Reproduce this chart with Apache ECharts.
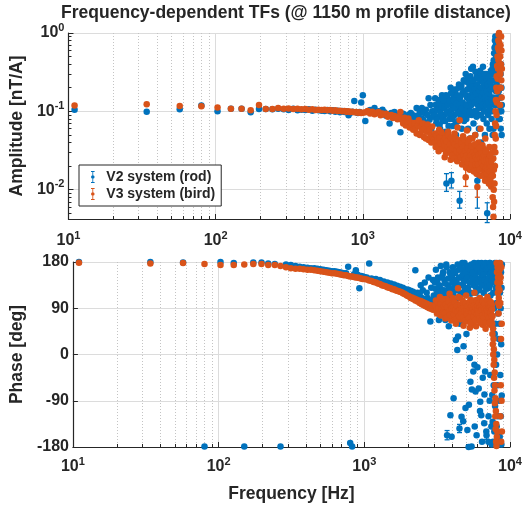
<!DOCTYPE html>
<html><head><meta charset="utf-8">
<script src="https://cdn.jsdelivr.net/npm/echarts@6/dist/echarts.min.js"></script>
<style>html,body{margin:0;padding:0;background:#fff}#c{width:527px;height:506px}</style>
</head><body><div id="c"></div><script>
// ---------------- data ----------------
const freq = [
  // 11 .. 500 Hz
  11,34,57,80,103,127,150,173,197,219,243,266,290,313,337,360,383,407,430,454,477,500,
  // 525 .. 1000 Hz
  525,550,575,600,625,650,675,700,725,750,775,800,825,850,875,900,925,950,975,1000,
  // 1040 .. 3000 Hz
  1040,1080,1120,1160,1200,1240,1280,1320,1360,1400,
  1440,1480,1520,1560,1600,1640,1680,1720,1760,1800,
  1840,1880,1920,1960,2000,2040,2080,2120,2160,2200,
  2240,2280,2320,2360,2400,2440,2480,2520,2560,2600,
  2640,2680,2720,2760,2800,2840,2880,2920,2960,3000,
  // 3050 .. 7500 Hz
  3050,3100,3150,3200,3250,3300,3350,3400,3450,3500,
  3550,3600,3650,3700,3750,3800,3850,3900,3950,4000,
  4050,4100,4150,4200,4250,4300,4350,4400,4450,4500,
  4550,4600,4650,4700,4750,4800,4850,4900,4950,5000,
  5050,5100,5150,5200,5250,5300,5350,5400,5450,5500,
  5550,5600,5650,5700,5750,5800,5850,5900,5950,6000,
  6050,6100,6150,6200,6250,6300,6350,6400,6450,6500,
  6550,6600,6650,6700,6750,6800,6850,6900,6950,7000,
  7050,7100,7150,7200,7250,7300,7350,7400,7450,7500,
  // 7550 .. 8800 Hz
  7550,7575,7600,7625,7650,7675,7700,7725,7750,7775,
  7800,7825,7850,7875,7900,7925,7950,7975,8000,8025,
  8050,8075,8100,8125,8150,8175,8200,8225,8250,8275,
  8300,8325,8350,8375,8400,8425,8450,8475,8500,8525,
  8550,8575,8600,8625,8650,8675,8700,8725,8750,8775,8800,
  // 3075 .. 7525 Hz (in-between bins)
  3075,3125,3175,3225,3275,3325,3375,3425,3475,3525,
  3575,3625,3675,3725,3775,3825,3875,3925,3975,4025,
  4075,4125,4175,4225,4275,4325,4375,4425,4475,4525,
  4575,4625,4675,4725,4775,4825,4875,4925,4975,5025,
  5075,5125,5175,5225,5275,5325,5375,5425,5475,5525,
  5575,5625,5675,5725,5775,5825,5875,5925,5975,6025,
  6075,6125,6175,6225,6275,6325,6375,6425,6475,6525,
  6575,6625,6675,6725,6775,6825,6875,6925,6975,7025,
  7075,7125,7175,7225,7275,7325,7375,7425,7475,7525
];

// V2 system (rod) amplitude [nT/A]
const ampV2 = [
  0.105,0.099,0.106,0.119,0.100,0.108,0.108,0.097,0.107,0.107,0.106,0.108,0.106,0.104,0.108,0.103,0.105,0.104,0.106,0.102,0.105,0.103,
  0.102,0.101,0.104,0.100,0.103,0.099,0.102,0.097,0.101,0.098,0.100,0.089,0.096,0.099,0.135,0.097,0.095,0.098,0.130,0.160,
  0.075,0.1,0.104,0.098,0.11,0.095,0.1,0.092,0.105,0.097,
  0.088,0.092,0.07,0.095,0.089,0.098,0.085,0.09,0.082,0.054,
  0.087,0.093,0.082,0.088,0.078,0.09,0.084,0.095,0.078,0.089,
  0.07,0.085,0.11,0.072,0.09,0.1,0.068,0.11,0.08,0.095,
  0.072,0.105,0.066,0.09,0.147,0.078,0.12,0.06,0.1,0.085,
  0.1,0.147,0.07,0.12,0.085,0.139,0.06,0.11,0.16,0.075,
  0.13,0.09,0.055,0.012,0.15,0.1,0.14,0.08,0.2,0.013,
  0.12,0.065,0.153,0.09,0.18,0.05,0.11,0.14,0.075,0.22,
  0.0072,0.1,0.13,0.06,0.17,0.09,0.25,0.04,0.12,0.3,
  0.08,0.15,0.265,0.06,0.11,0.2,0.045,0.14,0.35,0.09,
  0.18,0.37,0.07,0.13,0.22,0.05,0.16,0.1,0.28,0.013,
  0.12,0.2,0.06,0.3,0.09,0.15,0.04,0.24,0.11,0.18,
  0.37,0.08,0.14,0.25,0.05,0.19,0.1,0.3,0.07,0.005,
  0.16,0.09,0.25,0.12,0.06,0.2,0.1,0.15,0.3,0.08,
  0.25,0.1,0.35,0.05,0.4,0.15,0.3,0.06,0.45,0.2,
  0.55,0.03,0.65,0.12,0.8,0.25,0.9,0.4,0.7,0.18,
  0.5,0.3,0.6,0.22,0.4,0.15,0.3,0.5,0.2,0.35,
  0.12,0.25,0.08,0.18,0.3,0.15,0.1,0.2,0.12,0.08,
  0.15,0.2,0.1,0.3,0.06,0.15,0.4,0.1,0.2,0.05,0.12,
  0.09,0.12,0.078,0.105,0.13,0.068,0.095,0.115,0.082,0.14,
  0.11,0.075,0.16,0.098,0.12,0.065,0.135,0.09,0.17,0.105,
  0.08,0.14,0.11,0.19,0.07,0.125,0.16,0.095,0.2,0.12,
  0.15,0.085,0.21,0.11,0.13,0.18,0.075,0.24,0.1,0.16,
  0.12,0.19,0.09,0.23,0.14,0.1,0.28,0.16,0.12,0.21,
  0.15,0.25,0.1,0.19,0.13,0.32,0.17,0.085,0.22,0.14,
  0.26,0.11,0.18,0.14,0.33,0.2,0.09,0.16,0.27,0.12,
  0.17,0.23,0.1,0.3,0.15,0.2,0.12,0.26,0.18,0.14,
  0.22,0.13,0.28,0.17,0.11,0.24,0.19,0.33,0.14,0.21
];

// V3 system (bird) amplitude [nT/A]
const ampV3 = [
  0.119,0.123,0.117,0.116,0.112,0.108,0.108,0.103,0.120,0.107,0.107,0.110,0.108,0.109,0.107,0.108,0.106,0.107,0.105,0.106,0.104,0.105,
  0.104,0.105,0.103,0.104,0.102,0.103,0.101,0.102,0.100,0.101,0.099,0.100,0.098,0.099,0.097,0.098,0.096,0.097,0.095,0.096,
  0.097,0.101,0.094,0.099,0.092,0.096,0.098,0.089,0.094,0.091,
  0.093,0.085,0.088,0.09,0.082,0.087,0.084,0.079,0.086,0.098,
  0.078,0.07,0.083,0.066,0.075,0.081,0.062,0.072,0.068,0.058,
  0.071,0.06,0.052,0.066,0.077,0.05,0.063,0.056,0.07,0.047,
  0.061,0.045,0.055,0.068,0.043,0.058,0.05,0.04,0.064,0.046,
  0.044,0.052,0.038,0.047,0.041,0.058,0.036,0.045,0.05,0.034,
  0.043,0.026,0.048,0.033,0.04,0.055,0.031,0.044,0.024,0.039,
  0.046,0.03,0.037,0.052,0.028,0.041,0.034,0.062,0.027,0.036,
  0.077,0.03,0.043,0.025,0.035,0.048,0.022,0.033,0.04,0.0144,
  0.029,0.057,0.024,0.038,0.021,0.032,0.045,0.02,0.03,0.026,
  0.045,0.022,0.035,0.019,0.028,0.05,0.023,0.033,0.018,0.0108,
  0.027,0.04,0.02,0.031,0.024,0.06,0.019,0.029,0.022,0.037,
  0.018,0.026,0.033,0.017,0.024,0.045,0.016,0.022,0.03,0.015,
  0.021,0.028,0.014,0.02,0.035,0.013,0.018,0.025,0.011,0.016,
  0.02,0.012,0.03,0.008,0.015,0.006,0.025,0.0045,0.01,0.018,
  0.007,0.035,0.012,0.05,0.02,0.07,0.03,0.1,0.045,0.14,
  0.065,0.2,0.09,0.28,0.13,0.38,0.18,0.5,0.26,0.65,
  0.35,0.8,0.45,0.95,0.6,1.0,0.75,0.5,0.3,0.2,
  0.12,0.5,0.3,0.7,0.2,0.4,0.9,0.25,0.6,0.15,0.35,
  0.04,0.035,0.049,0.043,0.031,0.046,0.039,0.054,0.033,0.042,
  0.037,0.045,0.029,0.041,0.035,0.05,0.032,0.038,0.046,0.027,
  0.034,0.041,0.025,0.038,0.045,0.031,0.023,0.036,0.042,0.029,
  0.032,0.026,0.039,0.021,0.035,0.028,0.044,0.024,0.031,0.019,
  0.027,0.034,0.022,0.04,0.025,0.018,0.031,0.027,0.036,0.021,
  0.024,0.03,0.017,0.027,0.038,0.021,0.026,0.016,0.031,0.024,
  0.021,0.028,0.034,0.018,0.025,0.015,0.029,0.022,0.019,0.026,
  0.02,0.015,0.027,0.023,0.013,0.031,0.019,0.024,0.016,0.021,
  0.018,0.024,0.012,0.021,0.017,0.027,0.014,0.02,0.023,0.015
];

// V2 system (rod) phase [deg]
const phaseV2 = [
  180,180,179,-179,180,178,-179,179,179,177,176,-179,175,174,172,171,170,169,168,168,167,166,
  165,164,163,162,162,161,160,159,158,158,171,-172,-179,156,164,155,129,153,152,151,
  150,177,148,146,147,143,145,141,142,139,
  140,136,138,134,136,131,134,130,132,128,
  130,125,127,123,126,120,124,118,122,117,
  164,114,120,112,118,135,110,125,108,140,
  104,120,110,150,100,64,130,106,145,115,
  140,165,118,150,67,130,172,125,155,110,
  145,67,175,-157,135,55,160,-118,120,150,
  170,-85,128,158,28,140,9,35,165,-144,
  115,150,-121,178,135,16,160,125,-104,145,
  170,-147,130,-180,155,-7,-53,120,-179,165,
  140,-33,175,-20,150,-72,130,-157,160,125,
  178,-66,145,110,-92,165,-118,135,170,-45,
  150,120,-134,175,-33,140,160,-157,128,172,
  145,-170,165,130,-90,178,115,155,-140,170,
  -79,150,-131,170,-170,120,160,-60,175,90,
  -150,140,40,178,-100,165,60,-175,130,-20,
  170,100,-140,150,0,175,-60,120,160,-120,
  80,170,-170,140,30,-90,178,60,-160,120,
  150,-40,170,90,-120,160,20,-175,130,-80,175,
  128,112,145,120,135,105,150,118,160,125,
  138,115,170,122,148,130,108,155,-160,140,
  118,162,132,66,145,125,175,110,150,60,
  135,168,120,155,-130,142,178,128,160,40,
  150,125,172,-98,140,165,118,175,-68,148,
  160,135,178,-140,152,120,170,145,-25,165,
  140,175,125,-110,160,150,178,-170,135,168,
  155,172,-78,145,178,130,-150,165,140,176,
  168,-120,150,178,135,-40,172,160,-175,145
];

// V3 system (bird) phase [deg]
const phaseV3 = [
  178.6,177,178,176,174,174,175,176,176,174,174,172,170,168,167,167,166,165,165,164,163,162,
  161,160,159,158,158,157,156,155,154,154,153,152,152,151,150,150,149,148,147,147,
  146,144,143,141,140,138,137,135,134,133,
  131,130,129,127,127,125,124,123,122,121,
  119,118,117,115,114,113,110,111,108,109,
  105,107,103,105,100,104,98,102,96,100,
  94,99,92,97,90,96,89,95,87,93,
  92,105,80,98,88,112,76,95,101,84,
  90,70,108,85,96,78,118,88,66,99,
  87,104,74,93,60,99,82,129,71,90,
  110,68,95,79,102,56,88,97,73,115,
  84,64,100,77,92,52,106,81,95,70,
  98,60,87,120,75,93,55,102,80,90,
  68,96,83,110,62,89,100,72,94,58,
  85,105,66,91,78,50,99,82,70,112,
  88,62,95,75,104,58,90,80,68,96,
  60,40,75,20,50,0,30,-20,10,-45,
  -10,-70,-35,-95,-60,-120,-85,-145,-110,-170,
  -135,-178,178,-160,160,-150,140,170,120,150,
  100,130,80,110,175,95,155,125,165,140,
  178,100,-120,150,-60,30,-170,170,-90,60,-150,
  95,86,102,91,79,99,88,108,83,94,
  81,97,72,92,104,85,77,95,89,110,
  92,78,101,86,69,95,83,112,75,88,
  97,80,89,105,73,92,84,66,99,87,
  78,94,85,71,101,89,62,93,82,105,
  88,74,96,83,67,91,106,79,87,95,
  81,100,70,92,85,64,97,88,76,103,
  93,72,87,99,81,62,91,85,107,77,
  84,97,71,90,63,94,82,101,75,88
];

// visible error bars: [frequency, lower, upper]
const errAmpV2 = [[3700,0.0095,0.016],[4000,0.0105,0.0165],[4550,0.0058,0.0095],[6000,0.0058,0.028],[7000,0.0038,0.0068]];
const errAmpV3 = [[5000,0.011,0.019],[6000,0.008,0.015]];
const errPhaseV2 = [[3700,-166,-148],[4500,-152,-136],[6900,-165,-149]];
const errPhaseV3 = [[7725,-40,0],[8075,-180,-170]];

const xTicks = [10,100,1000,10000];
const ampTicks = [0.01,0.1,1];
const phaseTicks = [-180,-90,0,90,180];

const names = ['V2 system (rod)','V3 system (bird)'];
const titleText = 'Frequency-dependent TFs (@ 1150 m profile distance)';

// ---------------- chart ----------------
const FONT = '"Liberation Sans", Arial, Helvetica, sans-serif';
const INK = '#262626';
const BLUE = '#0072BD', ORANGE = '#D95319';
const GRID = '#dcdcdc', MINOR = '#c4c4c4';

function pts(ys){ return freq.map((f,i)=>[f, ys[i]]); }
function powLabel(v){
  const e = Math.round(Math.log10(v));
  if (Math.abs(v/Math.pow(10,e) - 1) > 1e-6) return '';
  return '{b|10}{s|' + e + '}';
}
const rich = {
  b:{fontSize:16, fontWeight:'bold', fontFamily:FONT, color:INK, lineHeight:22},
  s:{fontSize:11, fontWeight:'bold', fontFamily:FONT, color:INK, lineHeight:11, verticalAlign:'top'}
};
const nameStyle = {fontSize:17.5, fontWeight:'bold', fontFamily:FONT, color:INK};

function xAxis(gi, margin, name){
  return {
    type:'log', logBase:10, gridIndex:gi, min:xTicks[0], max:xTicks[xTicks.length-1],
    axisLine:{show:true, onZero:false, lineStyle:{color:INK, width:1.2}},
    axisTick:{show:true, inside:true, length:5, lineStyle:{color:INK}},
    minorTick:{show:true, splitNumber:9, length:3, lineStyle:{color:INK}},
    axisLabel:{formatter:powLabel, rich:rich, margin:margin},
    splitLine:{show:true, lineStyle:{color:GRID, width:1}},
    minorSplitLine:{show:true, lineStyle:{color:MINOR, width:1, type:[1,2]}},
    name:name, nameLocation:'middle', nameGap:38, nameTextStyle:nameStyle
  };
}

function errSeries(data, xi, color){
  return {
    type:'custom', xAxisIndex:xi, yAxisIndex:xi, data:data, silent:true, z:2,
    encode:{x:0, y:[1,2]},
    renderItem:function(params, api){
      const f = api.value(0);
      const a = api.coord([f, api.value(1)]);
      const b = api.coord([f, api.value(2)]);
      const w = 2.5;
      const st = {stroke:color, lineWidth:1.3, fill:null};
      return {type:'group', children:[
        {type:'line', shape:{x1:a[0],y1:a[1],x2:b[0],y2:b[1]}, style:st},
        {type:'line', shape:{x1:a[0]-w,y1:a[1],x2:a[0]+w,y2:a[1]}, style:st},
        {type:'line', shape:{x1:b[0]-w,y1:b[1],x2:b[0]+w,y2:b[1]}, style:st}
      ]};
    }
  };
}
function dotSeries(name, data, xi, color){
  return {
    name:name, type:'scatter', xAxisIndex:xi, yAxisIndex:xi, data:data,
    symbol:'circle', symbolSize:6.5, itemStyle:{color:color, opacity:1},
    emphasis:{disabled:true}, z:3
  };
}

const ICON = 'path://M2,0h6v1.6h-6z M4.3,0h1.4v20h-1.4z M2,18.4h6v1.6h-6z M5,7a3,3 0 1,1 0,6a3,3 0 1,1 0,-6z';

const chart = echarts.init(document.getElementById('c'), null, {renderer:'canvas'});
chart.setOption({
  animation:false,
  backgroundColor:'#ffffff',
  textStyle:{fontFamily:FONT},
  graphic:[{
    type:'text', x:286, y:13, z:10,
    style:{text:titleText, fontSize:17.5, fontWeight:'bold', fontFamily:FONT, fill:INK,
           textAlign:'center', textVerticalAlign:'middle'}
  }],
  grid:[
    {left:66, right:17, top:33, height:186},
    {left:66, right:17, top:262, height:185}
  ],
  xAxis:[ xAxis(0, 11, ''), xAxis(1, 9, 'Frequency [Hz]') ],
  yAxis:[
    {
      type:'log', logBase:10, gridIndex:0, min:0.00422, max:ampTicks[ampTicks.length-1],
      axisLine:{show:true, onZero:false, lineStyle:{color:INK, width:1.2}},
      axisTick:{show:true, inside:true, length:5, lineStyle:{color:INK}},
      minorTick:{show:true, splitNumber:9, length:3, lineStyle:{color:INK}},
      axisLabel:{formatter:powLabel, rich:rich, margin:4},
      splitLine:{show:true, lineStyle:{color:GRID, width:1}},
      minorSplitLine:{show:false},
      name:'Amplitude [nT/A]', nameLocation:'middle', nameGap:35, nameRotate:90, nameTextStyle:nameStyle
    },
    {
      type:'value', gridIndex:1, min:phaseTicks[0], max:phaseTicks[phaseTicks.length-1], interval:90,
      axisLine:{show:true, onZero:false, lineStyle:{color:INK, width:1.2}},
      axisTick:{show:true, inside:true, length:5, lineStyle:{color:INK}},
      axisLabel:{fontSize:16, fontWeight:'bold', fontFamily:FONT, color:INK, margin:4},
      splitLine:{show:true, lineStyle:{color:GRID, width:1}},
      name:'Phase [deg]', nameLocation:'middle', nameGap:37, nameRotate:90, nameTextStyle:nameStyle
    }
  ],
  legend:{
    data:[{name:names[0], icon:ICON},{name:names[1], icon:ICON}],
    left:79, top:165, orient:'vertical',
    backgroundColor:'#ffffff', borderColor:INK, borderWidth:1, borderRadius:0,
    padding:[5,6,5,12], itemGap:3, itemWidth:5, itemHeight:12, z:20,
    selectedMode:false,
    textStyle:{fontSize:14, fontWeight:'bold', fontFamily:FONT, color:INK, padding:[0,0,0,6]}
  },
  series:[
    errSeries(errAmpV2, 0, BLUE),
    dotSeries(names[0], pts(ampV2), 0, BLUE),
    errSeries(errAmpV3, 0, ORANGE),
    dotSeries(names[1], pts(ampV3), 0, ORANGE),
    errSeries(errPhaseV2, 1, BLUE),
    dotSeries(names[0], pts(phaseV2), 1, BLUE),
    errSeries(errPhaseV3, 1, ORANGE),
    dotSeries(names[1], pts(phaseV3), 1, ORANGE)
  ]
});
</script></body></html>
